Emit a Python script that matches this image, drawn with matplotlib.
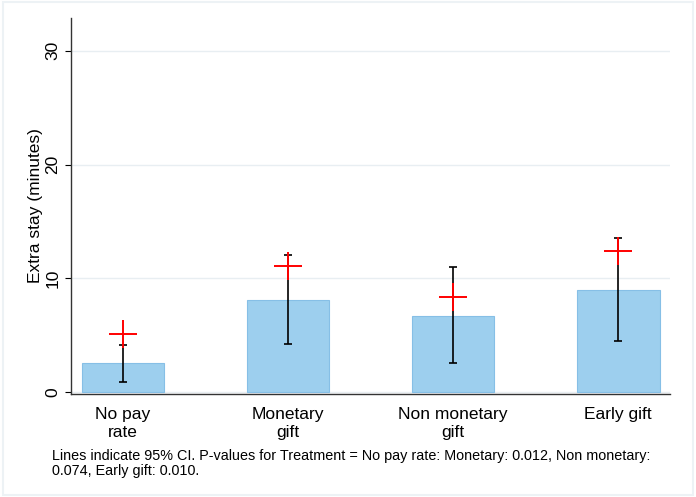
import matplotlib
matplotlib.use('Agg')
import matplotlib.pyplot as plt
from matplotlib.patches import Rectangle

plt.rcParams['font.family'] = ['Liberation Sans', 'DejaVu Sans']

categories = ['No pay\nrate', 'Monetary\ngift', 'Non monetary\ngift', 'Early gift']
means = [2.55, 8.05, 6.7, 9.0]
ci_low = [0.9, 4.2, 2.55, 4.5]
ci_high = [4.1, 12.05, 11.0, 13.55]
red_marks = [5.05, 11.05, 8.35, 12.4]
note = ('Lines indicate 95% CI. P-values for Treatment = No pay rate: Monetary: 0.012, Non monetary:\n'
        '0.074, Early gift: 0.010.')


def main():
	fig = plt.figure(figsize=(6.96, 4.97), dpi=100)
	fig.patches.append(Rectangle((0.004, 0.004), 0.992, 0.992, transform=fig.transFigure,
		facecolor='white', edgecolor='#edf2f5', linewidth=1.5, zorder=-1))
	ax = fig.add_axes([0.102, 0.207, 0.861, 0.757])

	x = list(range(len(categories)))
	ax.bar(x, means, width=0.5, color='#9dcfee', edgecolor='#86bfe6', linewidth=0.8, zorder=2)

	yerr = [[m - lo for m, lo in zip(means, ci_low)], [hi - m for m, hi in zip(means, ci_high)]]
	ax.errorbar(x, means, yerr=yerr, fmt='none', ecolor='black', elinewidth=1.2,
		capsize=3, capthick=1.2, zorder=3)
	ax.plot(x, red_marks, linestyle='none', marker='+', color='#ff0000',
		markersize=20, markeredgewidth=1.4, zorder=4)

	ax.set_xlim(-0.315, 3.315)
	ax.set_ylim(-0.2, 32.9)
	ax.set_yticks([0, 10, 20, 30])
	ax.set_yticklabels(['0', '10', '20', '30'], rotation=90, va='center', fontsize=12.5)
	ax.set_xticks(x)
	ax.set_xticklabels(categories, fontsize=12.5, linespacing=1.3)
	ax.tick_params(axis='x', length=0, pad=9)
	ax.tick_params(axis='y', length=4.5, width=0.8, pad=3)
	ax.set_ylabel('Extra stay (minutes)', fontsize=12.5, labelpad=2)

	ax.grid(axis='y', color='#e8eef2', linewidth=1.0, zorder=0)
	ax.set_axisbelow(True)
	for side in ['top', 'right']:
		ax.spines[side].set_visible(False)
	for side in ['left', 'bottom']:
		ax.spines[side].set_color('#333333')
		ax.spines[side].set_linewidth(1.0)

	fig.text(0.075, 0.068, note, fontsize=10.4, va='center', ha='left', linespacing=1.1)

	plt.savefig('out.png', dpi=100)


if __name__ == '__main__':
	main()
